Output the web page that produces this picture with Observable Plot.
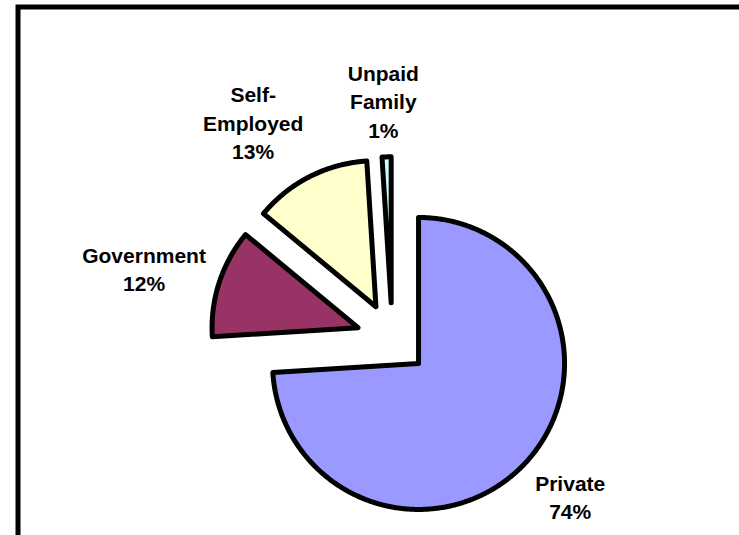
<!DOCTYPE html>
<html>
<head>
<meta charset="utf-8">
<script src="https://cdn.jsdelivr.net/npm/d3@7"></script>
<script src="https://cdn.jsdelivr.net/npm/@observablehq/plot@0.6"></script>
<style>
  html, body { margin: 0; padding: 0; background: #fff; overflow: hidden; }
</style>
</head>
<body>
<div id="chart"></div>
<script>
// ---- data ----
const categories = ["Private", "Government", "Self-Employed", "Unpaid Family"];
const labelNames = ["Private", "Government", "Self-\nEmployed", "Unpaid\nFamily"];
const percents = [74, 12, 13, 1];
const colors = ["#9999FF", "#993366", "#FFFFCC", "#CCFFFF"];

// ---- layout ----
const W = 739, H = 535;
const CX = 391.8, CY = 338.3, R = 146;   // pie centre & radius in px
const explode = 36 / R;                   // slice offset, in radius units
const fontSize = 21, lineH = 1.35;
const gap = 14 / R;

const total = d3.sum(percents);
let acc = 0;
const slices = categories.map((c, i) => {
  const a0 = acc / total * 2 * Math.PI;
  acc += percents[i];
  const a1 = acc / total * 2 * Math.PI;
  return {c, i, a0, a1, mid: (a0 + a1) / 2};
});

// outline points of each slice (radius units, y up, angle clockwise from 12 o'clock)
const pts = [];
for (const s of slices) {
  const ox = explode * Math.sin(s.mid), oy = explode * Math.cos(s.mid);
  pts.push({c: s.c, x: ox, y: oy});
  const n = Math.max(2, Math.ceil((s.a1 - s.a0) / (Math.PI / 360)));
  for (let k = 0; k <= n; k++) {
    const a = s.a0 + (s.a1 - s.a0) * k / n;
    pts.push({c: s.c, x: ox + Math.sin(a), y: oy + Math.cos(a)});
  }
  pts.push({c: s.c, x: ox, y: oy});
}

// labels placed outside the end of each slice
const ctx = document.createElement("canvas").getContext("2d");
ctx.font = `bold ${fontSize}px "Liberation Sans"`;
const clamp = v => Math.max(-1, Math.min(1, v));
const labels = slices.map((s, i) => {
  const lines = labelNames[i].split("\n").concat([percents[i] + "%"]);
  const w = d3.max(lines, l => ctx.measureText(l).width) / R;
  const h = lines.length * fontSize * lineH / R;
  const sx = Math.sin(s.mid), sy = Math.cos(s.mid);
  const px = explode * sx + (1 + gap) * sx;
  const py = explode * sy + (1 + gap) * sy;
  return {
    text: lines.join("\n"),
    x: px + w / 2 * clamp(2.5 * sx),
    y: py + h / 2 * clamp(1.2 * sy)
  };
});

const chart = Plot.plot({
  width: W,
  height: H,
  marginLeft: 17.5,
  marginTop: 6.5,
  marginRight: -40,
  marginBottom: -40,
  x: {domain: [-CX / R, (W - CX) / R], range: [0, W], axis: null},
  y: {domain: [-(H - CY) / R, CY / R], range: [H, 0], axis: null},
  color: {domain: categories, range: colors},
  marks: [
    Plot.frame({stroke: "black", strokeWidth: 5}),
    Plot.line(pts, {x: "x", y: "y", z: "c", fill: "c", stroke: "black",
      strokeWidth: 5, strokeLinejoin: "round", strokeLinecap: "round"}),
    Plot.text(labels, {x: "x", y: "y", text: "text", fill: "black",
      fontFamily: "Liberation Sans", fontWeight: "bold", fontSize: fontSize,
      lineHeight: lineH, textAnchor: "middle", lineAnchor: "middle"})
  ]
});
document.getElementById("chart").appendChild(chart);
</script>
</body>
</html>
